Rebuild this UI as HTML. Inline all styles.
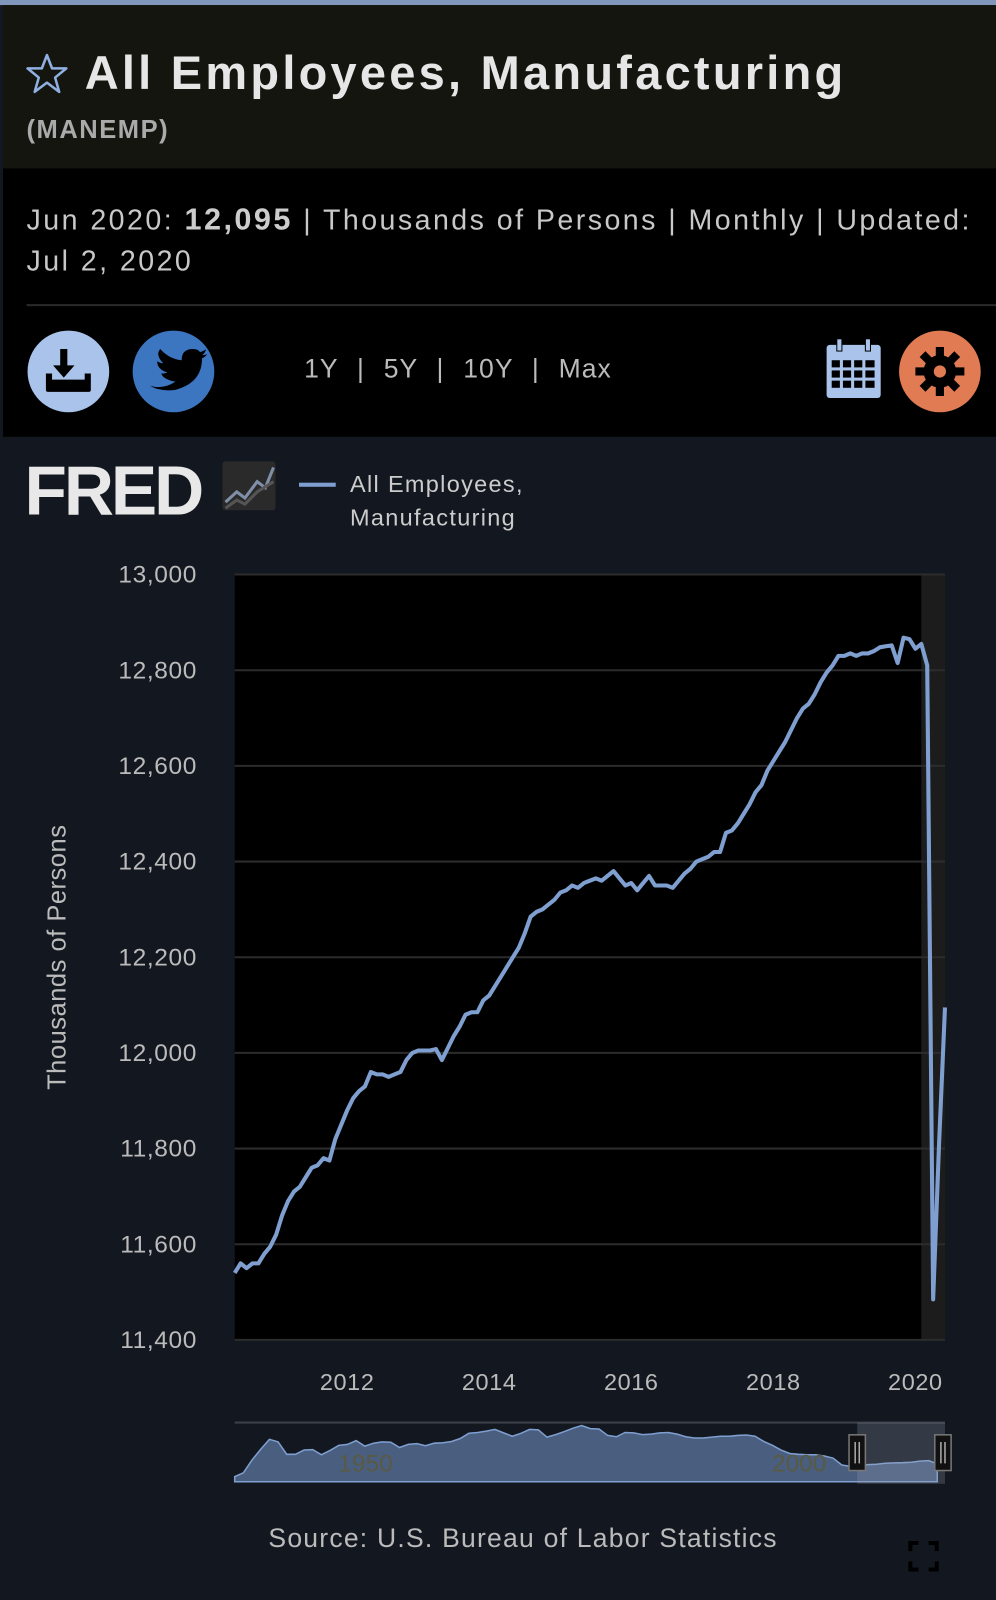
<!DOCTYPE html>
<html><head><meta charset="utf-8"><style>
body{margin:0;width:996px;height:1600px;background:#131820;font-family:"Liberation Sans",sans-serif;overflow:hidden;position:relative}
#wrap{position:absolute;left:0;top:0;width:976px;height:1568px;transform:scale(1.0205);transform-origin:0 0}
.abs{position:absolute}
</style></head><body>
<div id="wrap">
<div class="abs" style="left:0;top:0;width:976px;height:5px;background:#8096bb"></div>
<div class="abs" style="left:3px;top:5px;width:973px;height:160px;background:#15150f"></div>
<div class="abs" style="left:3px;top:165px;width:973px;height:263px;background:#000"></div>
<svg class="abs" style="left:25px;top:52px" width="42" height="40"><polygon points="21,2 26,15 40,15 29,24 33,38 21,29 9,38 13,24 2,15 16,15" fill="none" stroke="#8fb0e0" stroke-width="2.5" stroke-linejoin="round"/></svg>
<div class="abs" style="left:83px;top:44px;font-size:46px;font-weight:bold;color:#e6e6e6;letter-spacing:3.2px">All Employees, Manufacturing</div>
<div class="abs" style="left:26px;top:113px;font-size:25px;font-weight:bold;color:#aaa;letter-spacing:1.5px">(MANEMP)</div>
<div class="abs" style="left:26px;top:196px;font-size:28px;color:#c8c8c8;line-height:40px;width:960px;letter-spacing:2.4px;white-space:nowrap">Jun 2020: <b style="font-size:30px;color:#ccc">12,095</b> | Thousands of Persons | Monthly | Updated:<br>Jul 2, 2020</div>
<div class="abs" style="left:26px;top:298px;width:950px;height:2px;background:#2a2a2a"></div>
<svg class="abs" style="left:0;top:320px" width="976" height="90">
<g><circle cx="67" cy="44" r="40" fill="#a9c3ea"/><rect x="59" y="22" width="7" height="20" fill="#000"/><polygon points="52,38 73,38 62.5,50" fill="#000"/><rect x="45" y="52" width="44" height="12" rx="2" fill="#000"/><rect x="45" y="46" width="6" height="8" fill="#000"/><rect x="83" y="46" width="6" height="8" fill="#000"/></g>
<g><circle cx="170" cy="44" r="40" fill="#3c75c0"/><path d="M147 58 Q160 62 172 54 Q160 52 158 46 Q162 46 164 45 Q154 42 154 34 Q157 36 160 36 Q152 28 157 22 Q166 32 178 33 Q178 22 189 22 Q194 22 196 25 Q200 24 202 22 Q201 26 198 28 Q201 28 203 27 Q201 30 198 31 Q198 55 172 62 Q157 64 147 58Z" fill="#000"/></g>
<g><rect x="810" y="18" width="53" height="52" rx="3" fill="#a9c3ea"/><g fill="#000"><rect x="815" y="33" width="8" height="7"/><rect x="826" y="33" width="8" height="7"/><rect x="837" y="33" width="8" height="7"/><rect x="848" y="33" width="9" height="7"/><rect x="815" y="43" width="8" height="7"/><rect x="826" y="43" width="8" height="7"/><rect x="837" y="43" width="8" height="7"/><rect x="848" y="43" width="9" height="7"/><rect x="815" y="53" width="8" height="7"/><rect x="826" y="53" width="8" height="7"/><rect x="837" y="53" width="8" height="7"/><rect x="848" y="53" width="9" height="7"/></g><rect x="820" y="12" width="5" height="12" fill="#a9c3ea" stroke="#000"/><rect x="848" y="12" width="5" height="12" fill="#a9c3ea" stroke="#000"/></g>
<g><circle cx="921" cy="44" r="40" fill="#e07b54"/><circle cx="921" cy="44" r="16" fill="#000"/><g stroke="#000" stroke-width="8"><line x1="921" y1="20" x2="921" y2="68"/><line x1="897" y1="44" x2="945" y2="44"/><line x1="904" y1="27" x2="938" y2="61"/><line x1="938" y1="27" x2="904" y2="61"/></g><circle cx="921" cy="44" r="6" fill="#e07b54"/></g>
</svg>
<div class="abs" style="left:298px;top:346px;font-size:26px;color:#bbb;word-spacing:1px;letter-spacing:1px">1Y &nbsp;| &nbsp;5Y &nbsp;| &nbsp;10Y &nbsp;| &nbsp;Max</div>
<div class="abs" style="left:24px;top:442px;font-size:68px;font-weight:900;color:#e8e8e8;letter-spacing:-3px">FRED</div>
<svg class="abs" style="left:218px;top:452px" width="54" height="50"><rect width="52" height="48" rx="3" fill="#2a2a2a"/><polyline points="3,40 14,30 22,36 34,20 42,26 50,6" fill="none" stroke="#7f8fa8" stroke-width="3"/><polyline points="3,46 14,38 22,42 34,30 50,20" fill="none" stroke="#555" stroke-width="3"/></svg>
<div class="abs" style="left:293px;top:473px;width:36px;height:4px;background:#7f9fd0"></div>
<div class="abs" style="left:343px;top:458px;font-size:23px;color:#ccc;line-height:33px;letter-spacing:1.3px">All Employees,<br>Manufacturing</div>

<svg class="abs" id="chart" style="left:0;top:0" width="976" height="1568"></svg>

<div class="abs" style="left:263px;top:1492px;font-size:26px;color:#bbb;letter-spacing:1.2px">Source: U.S. Bureau of Labor Statistics</div>
<svg class="abs" style="left:890px;top:1510px" width="30" height="30"><g fill="none" stroke="#000" stroke-width="4"><path d="M2 10V2H10M20 2H28V10M28 20V28H20M10 28H2V20"/></g></svg>
</div>

<script>
const values = [
11540,11560,11550,11560,11560,11580,11595,
11620,11660,11690,11710,11720,11740,11760,11765,11780,11775,11820,11850,
11880,11905,11920,11930,11960,11955,11955,11950,11955,11960,11985,12000,
12005,12005,12005,12008,11985,12010,12035,12055,12080,12085,12085,12110,
12120,12140,12160,12180,12200,12220,12250,12285,12295,12300,12310,12320,
12335,12340,12350,12345,12355,12360,12365,12360,12370,12380,12365,12350,
12355,12340,12355,12370,12350,12350,12350,12345,12360,12375,12385,12400,
12405,12410,12420,12420,12460,12465,12480,12500,12520,12545,12560,12590,
12610,12630,12650,12675,12700,12720,12730,12750,12775,12795,12810,12830,
12830,12835,12830,12835,12835,12840,12848,12850,12852,12815,12868,12865,
12845,12855,12810,11485,11810,12095];
const startYear = 2010, startMonth = 5; // June 2010
const yTicks = [11400,11600,11800,12000,12200,12400,12600,12800,13000];
const xTicks = [2012,2014,2016,2018,2020];
const recession = [2020+1/12, 2020+5/12];
const navYears = [1939,1940,1941,1942,1943,1944,1945,1946,1947,1948,1949,1950,1951,1952,1953,1954,1955,1956,1957,1958,1959,1960,1961,1962,1963,1964,1965,1966,1967,1968,1969,1970,1971,1972,1973,1974,1975,1976,1977,1978,1979,1980,1981,1982,1983,1984,1985,1986,1987,1988,1989,1990,1991,1992,1993,1994,1995,1996,1997,1998,1999,2000,2001,2002,2003,2004,2005,2006,2007,2008,2009,2010,2011,2012,2013,2014,2015,2016,2017,2018,2019,2020];
const navValues = [9100,10000,13000,15500,17800,17200,14300,14300,15300,15400,14200,15200,16400,16600,17500,16200,16900,17200,17100,15900,16600,16800,16300,16900,17000,17300,18000,19200,19400,19700,20100,19300,18500,19200,20100,20000,18300,18900,19600,20400,21000,20300,20200,18700,18400,19400,19300,18900,19000,19300,19400,19000,18400,18100,18100,18300,18500,18500,18700,18800,18500,17300,16400,15300,14500,14300,14200,14200,13900,13400,11800,11500,11700,11900,12000,12200,12300,12350,12450,12700,12830,12100];
const navLabels = [1950,2000];

const NS='http://www.w3.org/2000/svg';
const svg=document.getElementById('chart');
function el(tag,attrs,parent){const e=document.createElementNS(NS,tag);for(const k in attrs)e.setAttribute(k,attrs[k]);(parent||svg).appendChild(e);return e;}
const X0=230,X1=926,Y0=563,Y1=1313;
const xMin=startYear+startMonth/12, xMax=xMin+(values.length-1)/12;
const xs=t=>X0+(t-xMin)/(xMax-xMin)*(X1-X0);
const ys=v=>Y1-(v-11400)/(13000-11400)*(Y1-Y0);

const bg=el('rect',{x:X0,y:Y0,width:X1-X0,height:Y1-Y0,fill:'#000'});


const rec=el('rect',{x:xs(recession[0]),y:Y0,width:X1-xs(recession[0]),height:Y1-Y0,fill:'#1c1c1c'});


yTicks.forEach(v=>{
  const g=el('line',{x1:X0,x2:X1,y1:ys(v),y2:ys(v),stroke:'#2c2c2c','stroke-width':2});
  
  
  const t=el('text',{x:193,y:ys(v)+8,'text-anchor':'end','font-size':24,fill:'#bbb','font-family':'Liberation Sans, sans-serif','letter-spacing':0.6});
  t.textContent=v.toLocaleString('en-US');
  
  
});
xTicks.forEach(y=>{
  const t=el('text',{x:xs(y),y:1362,'text-anchor':'middle','font-size':23,fill:'#bbb','font-family':'Liberation Sans, sans-serif','letter-spacing':0.6});
  t.textContent=y;
  
  
});
const yt=el('text',{x:0,y:0,transform:'translate(64,938) rotate(-90)','text-anchor':'middle','font-size':25,fill:'#bbb','font-family':'Liberation Sans, sans-serif','letter-spacing':0.5});
yt.textContent='Thousands of Persons';


const pts=values.map((v,i)=>xs(xMin+i/12).toFixed(1)+','+ys(v).toFixed(1)).join(' ');
const line=el('polyline',{points:pts,fill:'none',stroke:'#7f9fd0','stroke-width':4,'stroke-linejoin':'round'});



// navigator
const NX0=230,NX1=922,NY0=1394,NY1=1452;
const nx=y=>NX0+(y-1939)/(2020.42-1939)*(NX1-NX0);
const ny=v=>NY1-(v-7900)/(21700-7900)*(NY1-NY0);
const nbg=el('rect',{x:NX0,y:NY0,width:NX1-NX0,height:NY1-NY0,fill:'#131820'});


el('line',{x1:NX0,x2:NX1+4,y1:NY0,y2:NY0,stroke:'#3a3f48','stroke-width':2});
let d='M'+nx(navYears[0])+','+NY1;
navYears.forEach((y,i)=>{d+=' L'+nx(y).toFixed(1)+','+ny(navValues[i]).toFixed(1);});
d+=' L'+nx(navYears[navYears.length-1])+','+NY1+'Z';
const area=el('path',{d:d,fill:'#4a5e80',stroke:'#7f9fd0','stroke-width':1.5});


navLabels.forEach(y=>{
  const t=el('text',{x:nx(y)+8,y:1442,'font-size':24,fill:'#585a44','font-family':'Liberation Sans, sans-serif'});
  t.textContent=y;
  
  
});
const sel=el('rect',{x:840,y:NY0,width:NX1+4-840,height:NY1-NY0+2,fill:'rgba(150,160,180,0.25)'});


[840,924].forEach(hx=>{
  const h=el('rect',{x:hx-8,y:1406,width:16,height:35,fill:'#111',stroke:'#777','stroke-width':1.5});
  
  
  el('line',{x1:hx-2,x2:hx-2,y1:1413,y2:1434,stroke:'#aaa','stroke-width':1.5});
  el('line',{x1:hx+2,x2:hx+2,y1:1413,y2:1434,stroke:'#aaa','stroke-width':1.5});
});
</script>
</body></html>
